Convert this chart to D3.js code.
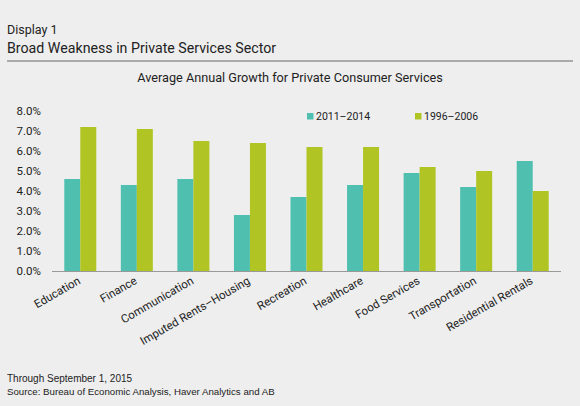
<!DOCTYPE html>
<html>
<head>
<meta charset="utf-8">
<script src="https://cdn.jsdelivr.net/npm/d3@7"></script>
<style>
  body { margin: 0; background: #eeeeee; }
  svg { display: block; }
</style>
</head>
<body>
<div id="chart"></div>
<script>
var categories = ["Education", "Finance", "Communication", "Imputed Rents\u2013Housing", "Recreation",
  "Healthcare", "Food Services", "Transportation", "Residential Rentals"];
var seriesNames = ["2011\u20132014", "1996\u20132006"];
var recent = [4.6, 4.3, 4.6, 2.8, 3.7, 4.3, 4.9, 4.2, 5.5];
var earlier = [7.2, 7.1, 6.5, 6.4, 6.2, 6.2, 5.2, 5.0, 4.0];
var yTicks = [0, 1, 2, 3, 4, 5, 6, 7, 8];
var colors = ["#4fbfaf", "#b0c524"];

var w = 580, h = 406;
var font = "Roboto, 'Open Sans', sans-serif";

var svg = d3.select("#chart").append("svg")
  .attr("width", w).attr("height", h);

svg.append("rect").attr("width", w).attr("height", h).attr("fill", "#eeeeee");

// header
svg.append("text").attr("x", 7).attr("y", 34).text("Display 1")
  .attr("font-family", font).attr("font-size", 12.5).attr("fill", "#222");
svg.append("text").attr("x", 7).attr("y", 53).text("Broad Weakness in Private Services Sector")
  .attr("font-family", font).attr("font-size", 14.2).attr("fill", "#222");
svg.append("line").attr("x1", 7).attr("x2", 573).attr("y1", 61).attr("y2", 61)
  .attr("stroke", "#aaaaaa").attr("stroke-width", 2);
svg.append("text").attr("x", 290).attr("y", 82).attr("text-anchor", "middle")
  .text("Average Annual Growth for Private Consumer Services")
  .attr("font-family", font).attr("font-size", 12.7).attr("fill", "#222");

var x0 = d3.scaleBand().domain(categories).range([52, 561]);
var x1 = d3.scaleBand().domain(seriesNames).range([0, 32]);
var y = d3.scaleLinear().domain([0, 8]).range([271, 111]);

var rows = categories.map(function(c, i) {
  return { cat: c, vals: [recent[i], earlier[i]] };
});

var g = svg.selectAll("g.grp").data(rows).enter().append("g")
  .attr("transform", function(d) {
    return "translate(" + (x0(d.cat) + x0.bandwidth() / 2 - 16) + ",0)";
  });

g.selectAll("rect").data(function(d) {
    return d.vals.map(function(v, j) { return { s: seriesNames[j], v: v, j: j }; });
  }).enter().append("rect")
  .attr("x", function(d) { return x1(d.s); })
  .attr("width", x1.bandwidth())
  .attr("y", function(d) { return y(d.v); })
  .attr("height", function(d) { return y(0) - y(d.v); })
  .attr("fill", function(d) { return colors[d.j]; });

// y axis labels
var yAxis = svg.append("g").attr("transform", "translate(41,0)")
  .call(d3.axisLeft(y).tickValues(yTicks).tickSize(0).tickPadding(0)
    .tickFormat(function(d) { return d.toFixed(1) + "%"; }));
yAxis.select(".domain").remove();
yAxis.selectAll("text").attr("font-family", font).attr("font-size", 11.5).attr("fill", "#222");

// baseline
svg.append("line").attr("x1", 52).attr("x2", 561).attr("y1", y(0) + 0.5).attr("y2", y(0) + 0.5)
  .attr("stroke", "#999999").attr("stroke-width", 1.2);

// x axis labels
var xAxis = svg.append("g").attr("transform", "translate(0," + y(0) + ")")
  .call(d3.axisBottom(x0).tickSize(0).tickPadding(0));
xAxis.select(".domain").remove();
xAxis.selectAll("text")
  .attr("font-family", font).attr("font-size", 11.5).attr("fill", "#222")
  .attr("text-anchor", "end")
  .attr("dy", 0)
  .attr("transform", "translate(1,12) rotate(-30)");

// legend
var legX = [307, 415];
var leg = svg.selectAll("g.leg").data(seriesNames).enter().append("g")
  .attr("transform", function(d, i) { return "translate(" + legX[i] + ",113)"; });
leg.append("rect").attr("width", 6.5).attr("height", 6.5)
  .attr("fill", function(d, i) { return colors[i]; });
leg.append("text").attr("x", 9).attr("y", 7).text(function(d) { return d; })
  .attr("font-family", font).attr("font-size", 10.5).attr("fill", "#222");

// footer
svg.append("text").attr("x", 7).attr("y", 382).text("Through September 1, 2015")
  .attr("font-family", "'Liberation Sans', Arial, sans-serif").attr("font-size", 10).attr("fill", "#222");
svg.append("text").attr("x", 7).attr("y", 395).text("Source: Bureau of Economic Analysis, Haver Analytics and AB")
  .attr("font-family", "'Liberation Sans', Arial, sans-serif").attr("font-size", 9.7).attr("fill", "#222");
</script>
</body>
</html>
